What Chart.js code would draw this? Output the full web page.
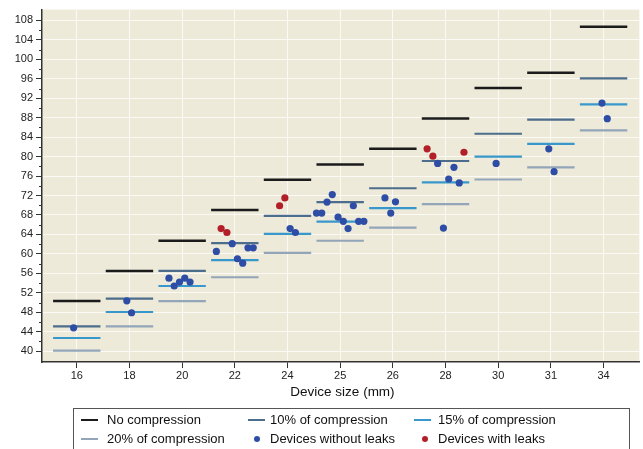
<!DOCTYPE html>
<html>
<head>
<meta charset="utf-8">
<script src="https://cdn.jsdelivr.net/npm/chart.js@4/dist/chart.umd.min.js"></script>
<style>
  html, body { margin: 0; padding: 0; background: #fff; overflow: hidden; }
  #wrap { position: relative; width: 643px; height: 449px; font-family: "Liberation Sans", Arial, sans-serif; color: #111; }
  #c { position: absolute; left: 0; top: 0; }
  #xtitle { position: absolute; left: 42px; width: 601px; top: 383px; text-align: center; font-size: 13.5px; line-height: 17px; color: #111; }
  #legend { position: absolute; left: 73px; top: 408px; width: 557px; height: 46px; border: 1px solid #555; box-sizing: border-box; }
  .li { position: absolute; height: 2px; width: 17px; }
  .ld { position: absolute; width: 6px; height: 6px; border-radius: 50%; }
  .lt { position: absolute; font-size: 13px; line-height: 16px; white-space: nowrap; }
</style>
</head>
<body>
<div id="wrap">
  <canvas id="c" width="643" height="449"></canvas>
  <div id="xtitle">Device size (mm)</div>
  <div id="legend"></div>
</div>
<script>
// ---- data ----
const categories = ['16', '18', '20', '22', '24', '25', '26', '28', '30', '31', '34'];
const noCompression = [50.3, 56.5, 62.7, 69.0, 75.25, 78.4, 81.6, 87.85, 94.1, 97.25, 106.7];
const compression10 = [45.1, 50.8, 56.5, 62.2, 67.8, 70.65, 73.5, 79.1, 84.7, 87.6, 96.1];
const compression15 = [42.7, 48.05, 53.4, 58.7, 64.1, 66.65, 69.4, 74.7, 80.0, 82.6, 90.75];
const compression20 = [40.1, 45.1, 50.3, 55.2, 60.2, 62.7, 65.4, 70.25, 75.3, 77.8, 85.4];

// devices without leaks: category index, jitter within category, value
const noLeakCategory = [0, 1, 1, 2, 2, 2, 2, 2, 3, 3, 3, 3, 3, 3, 4, 4, 5, 5, 5, 5, 5, 5, 5, 5, 5, 5, 6, 6, 6, 7, 7, 7, 7, 7, 8, 9, 9, 10, 10];
const noLeakJitter   = [-0.06, -0.05, 0.04, -0.25, -0.15, -0.05, 0.05, 0.15, -0.35, -0.05, 0.05, 0.15, 0.25, 0.35, 0.05, 0.15, -0.45, -0.35, -0.25, -0.15, -0.04, 0.06, 0.15, 0.25, 0.35, 0.45, -0.15, -0.04, 0.05, -0.15, -0.04, 0.06, 0.16, 0.26, -0.04, -0.04, 0.06, -0.03, 0.07];
const noLeakValue    = [44.8, 50.35, 47.9, 55.0, 53.4, 54.2, 55.0, 54.2, 60.5, 62.1, 59.0, 58.1, 61.25, 61.25, 65.2, 64.4, 68.4, 68.4, 70.65, 72.2, 67.55, 66.7, 65.2, 69.9, 66.7, 66.7, 71.5, 68.4, 70.7, 78.6, 65.3, 75.4, 77.8, 74.6, 78.6, 81.6, 76.9, 91.0, 87.8];

// devices with leaks
const leakCategory = [3, 3, 4, 4, 7, 7, 7];
const leakJitter   = [-0.26, -0.15, -0.15, -0.05, -0.35, -0.24, 0.35];
const leakValue    = [65.2, 64.4, 69.9, 71.5, 81.6, 80.1, 80.9];

const yMajorTicks = [40, 44, 48, 52, 56, 60, 64, 68, 72, 76, 80, 84, 88, 92, 96, 100, 104, 108];
const yMinorTicks = [42, 46, 50, 54, 58, 62, 66, 70, 74, 78, 82, 86, 90, 94, 98, 102, 106];

const seriesNames = ['No compression', '10% of compression', '15% of compression', '20% of compression', 'Devices without leaks', 'Devices with leaks'];

// ---- styles ----
const colors = {
  none: '#1b1b1b', c10: '#4d6d8c', c15: '#3898cc', c20: '#93a5b9',
  blue: '#2e4ea6', red: '#b31f28', bg: '#EDEAD9', grid: '#fbfaf4', axis: '#333333'
};
const HALF = 0.45;

function segments(values) {
  const pts = [];
  values.forEach((v, i) => {
    pts.push({ x: i - HALF, y: v });
    pts.push({ x: i + HALF, y: v });
    pts.push({ x: i + 0.5, y: null });
  });
  return pts;
}
function dots(cat, jit, val) {
  return val.map((v, k) => ({ x: cat[k] + jit[k], y: v }));
}

function lineDs(label, values, color, width) {
  return {
    type: 'line', label, data: segments(values), borderColor: color, backgroundColor: color,
    borderWidth: width, pointRadius: 0, spanGaps: false, borderCapStyle: 'butt', order: 2, tension: 0
  };
}
function dotDs(label, data, color) {
  return {
    type: 'line', label, data, showLine: false, pointRadius: 3.6, pointHoverRadius: 3.6,
    pointBackgroundColor: color, pointBorderWidth: 0, borderColor: color, order: 1
  };
}

const bgPlugin = {
  id: 'bg',
  beforeDraw(chart) {
    const a = chart.chartArea, ctx = chart.ctx;
    ctx.save();
    ctx.fillStyle = colors.bg;
    ctx.fillRect(a.left, a.top, a.right - a.left, a.bottom - a.top);
    ctx.restore();
  },
  afterDraw(chart) {
    const s = chart.scales.y, ctx = chart.ctx;
    ctx.save();
    ctx.strokeStyle = colors.axis;
    ctx.lineWidth = 1;
    yMinorTicks.forEach(v => {
      const y = Math.round(s.getPixelForValue(v)) + 0.5;
      ctx.beginPath();
      ctx.moveTo(s.right - 3, y);
      ctx.lineTo(s.right, y);
      ctx.stroke();
    });
    ctx.restore();
  }
};

Chart.defaults.font.family = '"Liberation Sans", Arial, sans-serif';
Chart.defaults.color = '#222';

new Chart(document.getElementById('c'), {
  type: 'line',
  data: {
    datasets: [
      dotDs(seriesNames[4], dots(noLeakCategory, noLeakJitter, noLeakValue), colors.blue),
      dotDs(seriesNames[5], dots(leakCategory, leakJitter, leakValue), colors.red),
      lineDs(seriesNames[0], noCompression, colors.none, 2.5),
      lineDs(seriesNames[1], compression10, colors.c10, 2.2),
      lineDs(seriesNames[2], compression15, colors.c15, 2.2),
      lineDs(seriesNames[3], compression20, colors.c20, 2.2)
    ]
  },
  options: {
    responsive: false,
    animation: false,
    events: [],
    layout: { padding: { top: 5, right: 0, left: 0, bottom: 0 } },
    plugins: { legend: { display: false }, tooltip: { enabled: false }, title: { display: false } },
    scales: {
      x: {
        type: 'linear', min: -0.66, max: 10.68,
        afterBuildTicks(scale) { scale.ticks = categories.map((c, i) => ({ value: i })); },
        afterFit(scale) { scale.height = 87; },
        ticks: {
          autoSkip: false, maxRotation: 0, padding: 1,
          font: { size: 11 }, color: '#222',
          callback: (v) => categories[v] !== undefined ? categories[v] : ''
        },
        grid: { color: colors.grid, lineWidth: 1, tickColor: colors.axis, tickLength: 6, tickWidth: 1 },
        border: { color: colors.axis, width: 1.5 }
      },
      y: {
        type: 'linear', min: 37.77, max: 110.23,
        afterBuildTicks(scale) { scale.ticks = yMajorTicks.map(v => ({ value: v })); },
        afterFit(scale) { scale.width = 42; },
        ticks: { autoSkip: false, padding: 3, font: { size: 11 }, color: '#222', callback: (v) => String(v) },
        grid: { color: colors.grid, lineWidth: 1, tickColor: colors.axis, tickLength: 6, tickWidth: 1 },
        border: { color: colors.axis, width: 1.5 }
      }
    }
  },
  plugins: [bgPlugin]
});

// ---- legend (HTML) ----
const legend = document.getElementById('legend');
const items = [
  { kind: 'line', color: colors.none, name: seriesNames[0], sx: 7, tx: 33, cy: 11 },
  { kind: 'line', color: colors.c10, name: seriesNames[1], sx: 174, tx: 196, cy: 11 },
  { kind: 'line', color: colors.c15, name: seriesNames[2], sx: 340, tx: 364, cy: 11 },
  { kind: 'line', color: colors.c20, name: seriesNames[3], sx: 7, tx: 33, cy: 30 },
  { kind: 'dot', color: colors.blue, name: seriesNames[4], sx: 180, tx: 196, cy: 30 },
  { kind: 'dot', color: colors.red, name: seriesNames[5], sx: 348, tx: 364, cy: 30 }
];
items.forEach(it => {
  const m = document.createElement('div');
  if (it.kind === 'line') {
    m.className = 'li';
    m.style.left = it.sx + 'px';
    m.style.top = (it.cy - 1) + 'px';
  } else {
    m.className = 'ld';
    m.style.left = it.sx + 'px';
    m.style.top = (it.cy - 3) + 'px';
  }
  m.style.background = it.color;
  legend.appendChild(m);
  const t = document.createElement('div');
  t.className = 'lt';
  t.textContent = it.name;
  t.style.left = it.tx + 'px';
  t.style.top = (it.cy - 8) + 'px';
  legend.appendChild(t);
});
</script>
</body>
</html>
